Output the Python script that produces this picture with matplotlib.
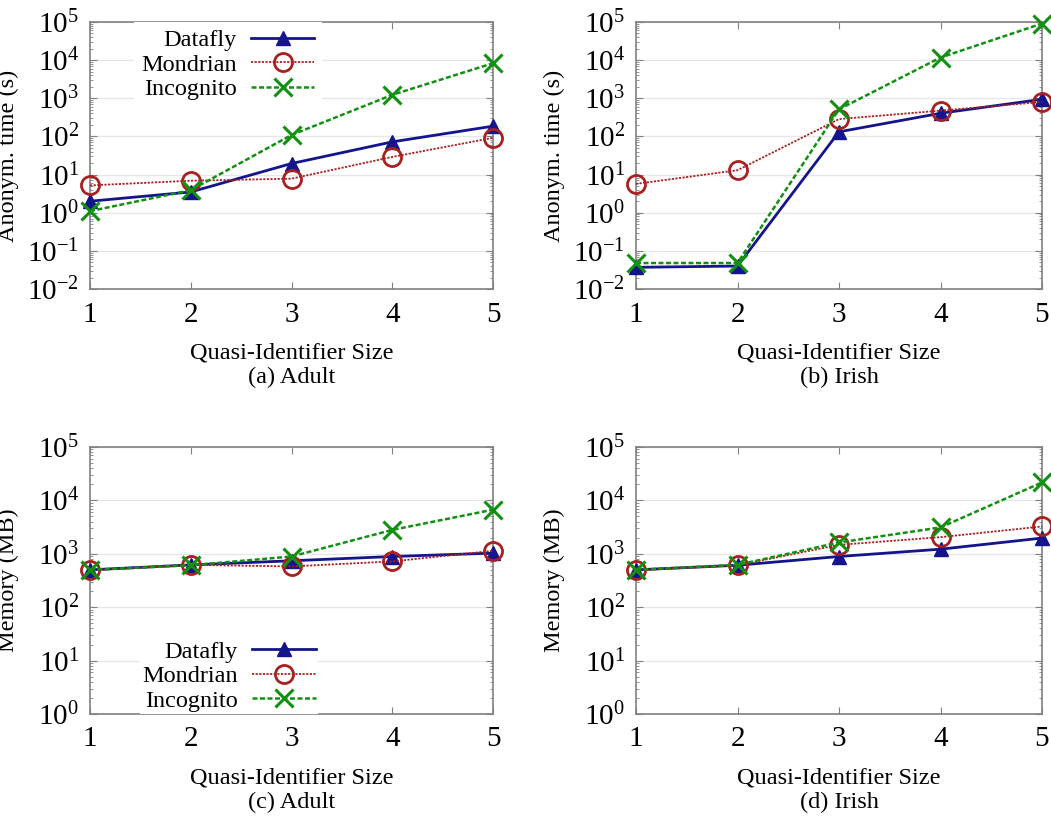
import numpy as np
import matplotlib
matplotlib.use("Agg")
import matplotlib.pyplot as plt
from matplotlib.ticker import LogLocator, LogFormatterMathtext, NullFormatter

plt.rcParams['font.family'] = ['Liberation Serif', 'DejaVu Serif']
plt.rcParams['mathtext.fontset'] = 'custom'
plt.rcParams['mathtext.rm'] = 'Liberation Serif'
plt.rcParams['mathtext.it'] = 'Liberation Serif:italic'
plt.rcParams['font.size'] = 17.5

# --- data ---
qi_size = [1, 2, 3, 4, 5]
methods = ["Datafly", "Mondrian", "Incognito"]

time_adult_datafly = [2.0, 3.5, 19.5, 72, 186]
time_adult_mondrian = [5.2, 6.9, 7.8, 29, 92]
time_adult_incognito = [1.1, 3.9, 109, 1230, 8300]

time_irish_datafly = [0.037, 0.040, 132, 405, 940]
time_irish_mondrian = [5.7, 13, 285, 475, 800]
time_irish_incognito = [0.048, 0.048, 515, 11700, 91000]

mem_adult_datafly = [500, 620, 740, 890, 1030]
mem_adult_mondrian = [490, 620, 580, 720, 1140]
mem_adult_incognito = [500, 610, 890, 2800, 6700]

mem_irish_datafly = [500, 610, 890, 1220, 1970]
mem_irish_mondrian = [490, 610, 1470, 2050, 3250]
mem_irish_incognito = [500, 620, 1630, 3120, 21700]

captions = ["(a) Adult", "(b) Irish", "(c) Adult", "(d) Irish"]

# gnuplot-like line styles
styles = {
    "Datafly": dict(color="#14148c", ls="-", lw=2.0, marker="^", ms=10,
                    mfc="#14148c", mec="#14148c"),
    "Mondrian": dict(color="#a82020", ls=(0, (1.2, 0.8)), lw=1.3, marker="o", ms=13,
                     mfc="none", mec="#a82020", mew=2.0),
    "Incognito": dict(color="#119011", ls=(0, (2.0, 1.0)), lw=1.8, marker="x", ms=13,
                      mec="#119011", mew=2.2),
}

fig = plt.figure(figsize=(10.51, 8.19), dpi=100)

W, H = 1051, 819
boxes = [(90, 22, 493, 289), (636, 22, 1042, 289),
         (90, 447, 493, 714), (636, 447, 1042, 714)]
panels = [
    (time_adult_datafly, time_adult_mondrian, time_adult_incognito),
    (time_irish_datafly, time_irish_mondrian, time_irish_incognito),
    (mem_adult_datafly, mem_adult_mondrian, mem_adult_incognito),
    (mem_irish_datafly, mem_irish_mondrian, mem_irish_incognito),
]

for i, (box, series) in enumerate(zip(boxes, panels)):
    l, t, r, b = box
    ax = fig.add_axes([l / W, 1 - b / H, (r - l) / W, (b - t) / H])
    for name, vals in zip(methods, series):
        ax.plot(qi_size, vals, label=name, clip_on=False, zorder=3, **styles[name])

    ax.set_yscale("log")
    ax.set_xlim(1, 5)
    if i < 2:
        ax.set_ylim(1e-2, 1e5)
        ax.set_ylabel("Anonym. time (s)")
    else:
        ax.set_ylim(1e0, 1e5)
        ax.set_ylabel("Memory (MB)")
    ax.yaxis.set_label_coords(-0.175, 0.5)
    ax.set_xticks(qi_size)
    ax.yaxis.set_major_locator(LogLocator(base=10, numticks=20))
    ax.yaxis.set_major_formatter(LogFormatterMathtext())
    ax.yaxis.set_minor_locator(LogLocator(base=10, subs=np.arange(2, 10), numticks=20))
    ax.yaxis.set_minor_formatter(NullFormatter())
    ax.grid(axis="y", which="major", color="#e6e6e6", lw=0.9)
    ax.set_axisbelow(True)

    ax.tick_params(which="both", direction="in", top=True, right=True,
                   color="#808080", labelsize=21)
    ax.tick_params(axis="x", which="major", length=5, pad=9)
    ax.tick_params(axis="y", which="major", length=5, pad=8)
    ax.tick_params(which="minor", length=2.5)
    for sp in ax.spines.values():
        sp.set_color("#808080")
        sp.set_linewidth(1.2)

    ax.text(0.5, -0.24, "Quasi-Identifier Size", transform=ax.transAxes,
            ha="center", va="center")
    ax.text(0.5, -0.333, captions[i], transform=ax.transAxes,
            ha="center", va="center")

    if i == 0:
        leg = ax.legend(loc="upper right", bbox_to_anchor=(0.575, 1.0),
                        markerfirst=False, handlelength=2.6, handletextpad=0.6,
                        labelspacing=0.1, borderpad=0.3, borderaxespad=0,
                        frameon=True, fancybox=False, framealpha=1,
                        edgecolor="none")
    elif i == 2:
        leg = ax.legend(loc="lower right", bbox_to_anchor=(0.566, 0.0),
                        markerfirst=False, handlelength=2.6, handletextpad=0.6,
                        labelspacing=0.1, borderpad=0.1, borderaxespad=0,
                        frameon=True, fancybox=False, framealpha=1,
                        edgecolor="none")

fig.savefig("out.png", dpi=100)
